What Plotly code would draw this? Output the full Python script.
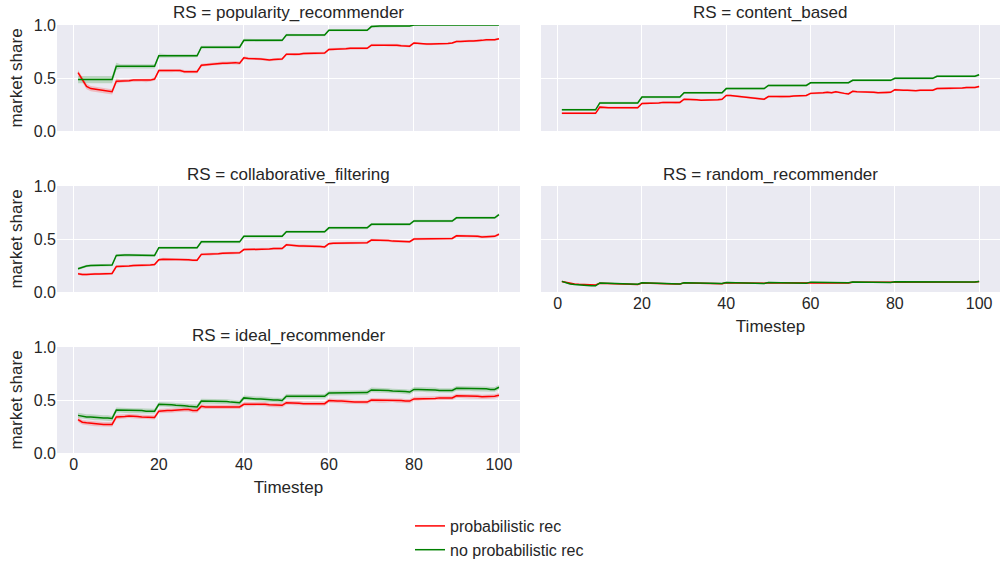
import plotly.graph_objects as go

timesteps = list(range(1, 101))
panels = ["popularity_recommender", "content_based", "collaborative_filtering",
          "random_recommender", "ideal_recommender"]
series_names = ["probabilistic rec", "no probabilistic rec"]

pop_prob = [0.55,0.48,0.42,0.40,0.395,0.39,0.38,0.375,0.37,
            0.47,0.47,0.475,0.475,0.48,0.48,0.48,0.475,0.48,0.49,
            0.57,0.57,0.57,0.57,0.575,0.57,0.56,0.56,0.56,0.56,
            0.62,0.625,0.63,0.635,0.64,0.64,0.64,0.645,0.645,0.64,
            0.69,0.685,0.685,0.68,0.68,0.675,0.67,0.675,0.675,0.68,
            0.725,0.725,0.72,0.725,0.73,0.73,0.73,0.73,0.735,0.735,
            0.77,0.77,0.775,0.775,0.775,0.78,0.78,0.78,0.78,0.78,
            0.81,0.81,0.815,0.815,0.81,0.81,0.81,0.805,0.805,0.80,
            0.83,0.825,0.82,0.82,0.82,0.82,0.825,0.825,0.825,0.83,
            0.845,0.845,0.85,0.85,0.85,0.85,0.855,0.86,0.86,0.86,0.87]
pop_noprob = [0.485,0.485,0.485,0.485,0.485,0.485,0.485,0.485,0.485,
              0.61,0.61,0.61,0.61,0.61,0.61,0.61,0.61,0.61,0.61,
              0.71,0.71,0.71,0.71,0.71,0.71,0.71,0.71,0.71,0.71,
              0.79,0.79,0.79,0.79,0.79,0.79,0.79,0.79,0.79,0.79,
              0.855,0.855,0.855,0.855,0.855,0.855,0.855,0.855,0.855,0.855,
              0.905,0.905,0.905,0.905,0.905,0.905,0.905,0.905,0.905,0.905,
              0.95,0.95,0.95,0.95,0.95,0.95,0.95,0.95,0.95,0.95,
              0.985,0.99,0.99,0.99,0.99,0.99,0.99,0.99,0.99,0.99,
              1.0,1.0,1.0,1.0,1.0,1.0,1.0,1.0,1.0,1.0,
              1.0,1.0,1.0,1.0,1.0,1.0,1.0,1.0,1.0,1.0,1.0]

cb_prob = [0.167,0.167,0.167,0.167,0.167,0.167,0.167,0.167,0.167,
           0.225,0.22,0.22,0.22,0.22,0.22,0.22,0.22,0.22,0.22,
           0.26,0.26,0.265,0.265,0.265,0.27,0.27,0.27,0.265,0.27,
           0.30,0.30,0.295,0.295,0.29,0.29,0.295,0.295,0.295,0.30,
           0.335,0.335,0.33,0.33,0.325,0.32,0.315,0.31,0.305,0.30,
           0.325,0.325,0.325,0.32,0.32,0.325,0.33,0.33,0.335,0.335,
           0.355,0.355,0.36,0.36,0.365,0.36,0.37,0.36,0.355,0.35,
           0.375,0.37,0.37,0.37,0.365,0.365,0.36,0.36,0.36,0.365,
           0.39,0.385,0.385,0.385,0.38,0.38,0.385,0.385,0.385,0.385,
           0.40,0.40,0.40,0.40,0.405,0.405,0.405,0.41,0.41,0.41,0.42]
cb_noprob = [0.20,0.20,0.20,0.20,0.20,0.20,0.20,0.20,0.20,
             0.265,0.265,0.265,0.265,0.265,0.265,0.265,0.265,0.265,0.265,
             0.32,0.32,0.32,0.32,0.32,0.32,0.32,0.32,0.32,0.32,
             0.36,0.36,0.36,0.36,0.36,0.36,0.36,0.36,0.36,0.36,
             0.40,0.40,0.40,0.40,0.40,0.40,0.40,0.40,0.40,0.40,
             0.43,0.43,0.43,0.43,0.43,0.43,0.43,0.43,0.43,0.43,
             0.455,0.455,0.455,0.455,0.455,0.455,0.455,0.455,0.455,0.455,
             0.478,0.478,0.478,0.478,0.478,0.478,0.478,0.478,0.478,0.478,
             0.497,0.497,0.497,0.497,0.497,0.497,0.497,0.497,0.497,0.497,
             0.516,0.516,0.516,0.516,0.516,0.516,0.516,0.516,0.516,0.516,0.53]

cf_prob = [0.173,0.165,0.165,0.17,0.17,0.17,0.17,0.175,0.175,
           0.24,0.24,0.245,0.245,0.25,0.25,0.25,0.255,0.255,0.26,
           0.305,0.31,0.31,0.31,0.31,0.31,0.305,0.305,0.30,0.30,
           0.355,0.355,0.355,0.36,0.36,0.365,0.365,0.365,0.365,0.37,
           0.40,0.40,0.40,0.40,0.405,0.405,0.405,0.41,0.41,0.41,
           0.445,0.44,0.44,0.435,0.435,0.435,0.435,0.43,0.43,0.425,
           0.455,0.46,0.46,0.465,0.465,0.465,0.465,0.465,0.465,0.465,
           0.49,0.49,0.49,0.485,0.485,0.48,0.48,0.48,0.475,0.475,
           0.50,0.50,0.50,0.50,0.505,0.505,0.505,0.505,0.505,0.505,
           0.53,0.53,0.53,0.525,0.525,0.525,0.52,0.52,0.52,0.525,0.545]
cf_noprob = [0.22,0.235,0.245,0.25,0.25,0.25,0.25,0.255,0.255,
             0.345,0.35,0.35,0.35,0.35,0.35,0.35,0.35,0.345,0.345,
             0.418,0.418,0.418,0.418,0.418,0.418,0.418,0.418,0.418,0.418,
             0.473,0.473,0.473,0.473,0.473,0.473,0.473,0.473,0.473,0.473,
             0.525,0.525,0.525,0.525,0.525,0.525,0.525,0.525,0.525,0.525,
             0.568,0.568,0.568,0.568,0.568,0.568,0.568,0.568,0.568,0.568,
             0.605,0.605,0.605,0.605,0.605,0.605,0.605,0.605,0.605,0.605,
             0.638,0.638,0.638,0.638,0.638,0.638,0.638,0.638,0.638,0.638,
             0.67,0.67,0.67,0.67,0.67,0.67,0.67,0.67,0.67,0.67,
             0.70,0.70,0.70,0.70,0.70,0.70,0.70,0.70,0.70,0.70,0.73]

rr_prob = [0.10,0.09,0.08,0.075,0.072,0.07,0.068,0.067,0.066,
           0.082,0.08,0.079,0.078,0.076,0.075,0.074,0.072,0.071,0.07,
           0.085,0.083,0.081,0.08,0.079,0.078,0.077,0.077,0.076,0.075,
           0.086,0.085,0.085,0.084,0.083,0.082,0.081,0.08,0.08,0.079,
           0.088,0.087,0.087,0.086,0.085,0.085,0.084,0.083,0.083,0.082,
           0.088,0.088,0.087,0.086,0.086,0.085,0.085,0.084,0.084,0.083,
           0.09,0.089,0.089,0.088,0.088,0.087,0.087,0.087,0.086,0.086,
           0.093,0.093,0.092,0.092,0.092,0.091,0.091,0.09,0.09,0.09,
           0.095,0.095,0.095,0.094,0.094,0.094,0.093,0.093,0.093,0.092,
           0.097,0.097,0.096,0.096,0.096,0.095,0.095,0.095,0.094,0.094,0.098]
rr_noprob = [0.10,0.085,0.075,0.07,0.065,0.063,0.062,0.06,0.058,
             0.085,0.083,0.082,0.08,0.079,0.078,0.077,0.076,0.075,0.074,
             0.088,0.086,0.084,0.082,0.08,0.079,0.078,0.077,0.076,0.076,
             0.088,0.087,0.086,0.085,0.084,0.083,0.082,0.081,0.08,0.08,
             0.09,0.089,0.088,0.087,0.086,0.085,0.084,0.083,0.082,0.08,
             0.09,0.089,0.088,0.088,0.087,0.086,0.085,0.085,0.084,0.083,
             0.093,0.092,0.092,0.091,0.09,0.09,0.089,0.088,0.088,0.087,
             0.095,0.094,0.094,0.093,0.092,0.092,0.091,0.091,0.09,0.09,
             0.096,0.096,0.095,0.095,0.094,0.094,0.093,0.093,0.092,0.092,
             0.098,0.098,0.097,0.097,0.096,0.096,0.095,0.095,0.095,0.094,0.10]

ir_prob = [0.315,0.29,0.285,0.28,0.275,0.27,0.27,0.27,0.27,
           0.34,0.34,0.345,0.35,0.35,0.345,0.34,0.34,0.34,0.335,
           0.395,0.40,0.40,0.40,0.405,0.41,0.41,0.41,0.40,0.40,
           0.44,0.435,0.435,0.43,0.43,0.43,0.43,0.435,0.435,0.435,
           0.46,0.46,0.46,0.465,0.465,0.46,0.455,0.455,0.45,0.45,
           0.475,0.475,0.47,0.47,0.465,0.465,0.465,0.465,0.465,0.465,
           0.495,0.49,0.49,0.49,0.485,0.485,0.48,0.48,0.48,0.48,
           0.50,0.50,0.495,0.495,0.495,0.50,0.495,0.495,0.49,0.49,
           0.51,0.51,0.515,0.515,0.515,0.515,0.52,0.52,0.52,0.52,
           0.54,0.54,0.54,0.535,0.535,0.535,0.53,0.53,0.53,0.535,0.545]
ir_noprob = [0.355,0.345,0.34,0.34,0.335,0.335,0.33,0.33,0.325,
             0.405,0.405,0.40,0.40,0.40,0.40,0.40,0.395,0.395,0.395,
             0.46,0.46,0.455,0.455,0.45,0.45,0.445,0.44,0.44,0.435,
             0.49,0.49,0.49,0.49,0.485,0.485,0.485,0.48,0.48,0.475,
             0.52,0.515,0.515,0.51,0.51,0.505,0.505,0.50,0.50,0.495,
             0.535,0.535,0.535,0.535,0.535,0.535,0.535,0.535,0.535,0.535,
             0.565,0.565,0.565,0.565,0.57,0.57,0.57,0.57,0.57,0.57,
             0.595,0.595,0.59,0.59,0.59,0.585,0.585,0.58,0.58,0.575,
             0.60,0.60,0.60,0.595,0.595,0.595,0.59,0.59,0.59,0.59,
             0.61,0.61,0.61,0.61,0.605,0.605,0.605,0.605,0.60,0.60,0.62]

# 95% CI half-widths per 10-step block (estimated)
ci_prob = {"popularity_recommender": [0.025,0.015,0.015,0.015,0.012,0.012,0.012,0.012,0.01,0.01],
           "content_based": [0.01]*10,
           "collaborative_filtering": [0.012]*10,
           "random_recommender": [0.006]*10,
           "ideal_recommender": [0.022,0.02,0.02,0.02,0.02,0.02,0.02,0.02,0.02,0.02]}
ci_noprob = {"popularity_recommender": [0.035,0.02,0.015,0.015,0.012,0.01,0.01,0.008,0.003,0.002],
             "content_based": [0.01]*10,
             "collaborative_filtering": [0.012]*10,
             "random_recommender": [0.006]*10,
             "ideal_recommender": [0.025,0.022,0.022,0.022,0.022,0.022,0.022,0.022,0.022,0.022]}

data = {
    "popularity_recommender": (pop_prob, pop_noprob),
    "content_based": (cb_prob, cb_noprob),
    "collaborative_filtering": (cf_prob, cf_noprob),
    "random_recommender": (rr_prob, rr_noprob),
    "ideal_recommender": (ir_prob, ir_noprob),
}

colors = ["#ff0000", "#008000"]
fills = ["rgba(255,0,0,0.2)", "rgba(0,128,0,0.2)"]

W, H = 1000, 562
cols = [(57, 520), (541, 1000)]
rows = [(25, 131), (186, 292), (347, 453)]
positions = [(0, 0), (0, 1), (1, 0), (1, 1), (2, 0)]

fig = go.Figure()
txt = "#262626"
font_family = "Liberation Sans, Arial, sans-serif"

for k, name in enumerate(panels):
    r, c = positions[k]
    ax = "" if k == 0 else str(k + 1)
    for s in range(2):
        y = data[name][s]
        ci = ci_prob[name] if s == 0 else ci_noprob[name]
        half = [ci[min(i // 10, 9)] for i in range(len(timesteps))]
        up = [v + h for v, h in zip(y, half)]
        lo = [v - h for v, h in zip(y, half)]
        fig.add_trace(go.Scatter(
            x=timesteps + timesteps[::-1], y=up + lo[::-1], fill="toself",
            fillcolor=fills[s], line=dict(width=0), hoverinfo="skip",
            showlegend=False, xaxis="x" + ax, yaxis="y" + ax, mode="lines"))
    for s in range(2):
        y = data[name][s]
        fig.add_trace(go.Scatter(
            x=timesteps, y=y, mode="lines", name=series_names[s],
            line=dict(color=colors[s], width=1.5),
            showlegend=(k == 0), xaxis="x" + ax, yaxis="y" + ax))

    x0, x1 = cols[c]
    y0, y1 = rows[r]
    show_x = k in (3, 4)
    show_y = (c == 0)
    xa = dict(domain=[x0 / W, x1 / W], range=[-3.95, 104.95], automargin=False,
              tickvals=[0, 20, 40, 60, 80, 100], showticklabels=show_x,
              gridcolor="white", gridwidth=1, zeroline=False, showline=False,
              tickfont=dict(size=16, color=txt), anchor="y" + ax, ticks="",
              title=dict(text="Timestep" if show_x else "", font=dict(size=17, color=txt), standoff=9))
    ya = dict(domain=[1 - y1 / H, 1 - y0 / H], range=[0, 1], automargin=False,
              tickvals=[0, 0.5, 1.0], ticktext=["0.0", "0.5", "1.0"], showticklabels=show_y,
              gridcolor="white", gridwidth=1, zeroline=False, showline=False,
              tickfont=dict(size=16, color=txt), anchor="x" + ax, ticks="",
              title=dict(text="market share" if show_y else "", font=dict(size=17, color=txt), standoff=6))
    fig.layout["xaxis" + ax] = xa
    fig.layout["yaxis" + ax] = ya
    fig.add_annotation(text="RS = " + name, x=(x0 + x1) / 2 / W, y=1 - (y0 - 12) / H,
                       xref="paper", yref="paper", showarrow=False,
                       font=dict(size=17, color=txt), xanchor="center", yanchor="middle")

fig.update_layout(
    width=W, height=H, margin=dict(l=0, r=0, t=0, b=0, autoexpand=False),
    plot_bgcolor="#EAEAF2", paper_bgcolor="white",
    font=dict(family=font_family, color=txt),
    legend=dict(x=0.41, xanchor="left", y=1 - 509 / H, yanchor="top",
                font=dict(size=16, color=txt), bgcolor="rgba(0,0,0,0)",
                tracegroupgap=0, itemwidth=30),
)
fig.write_html("out.html", config={"displayModeBar": False},
               post_script="document.body.style.margin='0';document.body.style.padding='0';")
